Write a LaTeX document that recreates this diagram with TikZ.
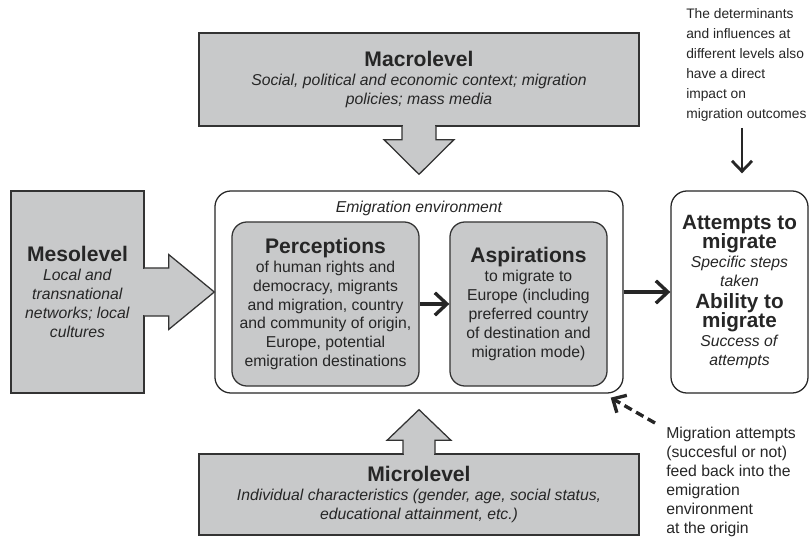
\documentclass[tikz,border=0pt]{standalone}
\usepackage{fontspec}
\setmainfont{Liberation Sans}
\usepackage{tikz}
\usetikzlibrary{arrows.meta,positioning,calc}
\definecolor{tinta}{HTML}{262626}
\definecolor{borde}{HTML}{333333}
\definecolor{grisCaja}{HTML}{C8C9CA}
\newcommand\titulo{\fontsize{15pt}{13.5pt}\selectfont\bfseries}
\newcommand\tituloB{\fontsize{14.7pt}{13.3pt}\selectfont\bfseries}
\newcommand\cuerpo{\fontsize{11.2pt}{13.5pt}\selectfont}
\lineskiplimit=-20pt

\begin{document}
\begin{tikzpicture}[x=0.025cm,y=-0.025cm,
    nivel/.style={draw=borde,fill=grisCaja,line width=0.9pt,align=center,
                  inner sep=0pt,font=\cuerpo\color{tinta}},
    tarjeta/.style={nivel,rounded corners=0.375cm},
    marco/.style={draw=tinta,fill=white,line width=0.9pt,rounded corners=0.4cm,
                  align=center,inner sep=0pt},
    bloque/.style={fill=grisCaja,draw=borde,line width=0.9pt,line join=miter},
    nota/.style={align=left,inner sep=0pt,anchor=north west},
    flecha/.style={-{Straight Barb[length=3mm,width=5.6mm]},line width=2.4pt,draw=tinta},
    flechaFina/.style={-{Straight Barb[length=2.6mm,width=5mm]},line width=2pt,draw=tinta},
    flechaDiscontinua/.style={-{Straight Barb[length=2.6mm,width=5mm]},line width=2.4pt,
                  draw=tinta,dash pattern=on 6pt off 3.5pt}]
  \useasboundingbox[fill=white] (0,0) rectangle (810,538);

  % niveles
  \node[nivel,minimum width=11cm,minimum height=2.325cm] (macro) at (419,79.5)
    {{\titulo Macrolevel}\\\textit{Social, political and economic context; migration}\\
     \textit{policies; mass media}};
  \node[nivel,minimum width=11cm,minimum height=2.025cm] (micro) at (419,494.5)
    {{\titulo Microlevel}\\\textit{Individual characteristics (gender, age, social status,}\\
     \textit{educational attainment, etc.)}};
  \node[nivel,minimum width=3.325cm,minimum height=5.05cm] (meso) at (77.5,292)
    {{\titulo Mesolevel}\\\textit{Local and}\\\textit{transnational}\\
     \textit{networks; local}\\\textit{cultures}};

  % entorno de emigracion
  \node[marco,minimum width=10.2cm,minimum height=5.05cm] (env) at (419,292) {};
  \node[font=\cuerpo\itshape\color{tinta},anchor=base,inner sep=0pt] (envlbl)
    at ($(env.north)+(0,21.7)$) {Emigration environment};
  \node[tarjeta,minimum width=4.675cm,minimum height=4.1cm] (perc) at (325.5,304)
    {{\titulo Perceptions}\\of human rights and\\democracy, migrants\\
     and migration, country\\and community of origin,\\Europe, potential\\
     emigration destinations};
  \node[tarjeta,minimum width=3.925cm,minimum height=4.1cm] (asp) at (528.5,304)
    {{\titulo Aspirations}\\to migrate to\\Europe (including\\preferred country\\
     of destination and\\migration mode)};

  % resultados
  \node[marco,minimum width=3.425cm,minimum height=5.05cm,
        font=\fontsize{11.2pt}{13.3pt}\selectfont\color{tinta}] (out)
    at (739.5,292)
    {{\tituloB Attempts to}\\{\tituloB migrate}\\\textit{Specific steps}\\\textit{taken}\\[3pt]
     {\tituloB Ability to}\\{\tituloB migrate}\\\textit{Success of}\\\textit{attempts}};

  % flechas de bloque
  \draw[bloque] ($(macro.south)+(-17,0)$) -- ++(0,13) -- ++(-18,0)
    -- ($(env.north)+(0,-16)$) -- ($(macro.south)+(35,13)$) -- ++(-18,0) -- ++(0,-13);
  \fill[grisCaja] ($(macro.south)+(-16.3,-1.5)$) rectangle ($(macro.south)+(16.3,1.2)$);
  \draw[bloque] ($(micro.north)+(-16,0)$) -- ++(0,-13) -- ++(-16,0)
    -- ($(env.south)+(0,16)$) -- ($(micro.north)+(32,-13)$) -- ++(-16,0) -- ++(0,13);
  \fill[grisCaja] ($(micro.north)+(-15.3,1.5)$) rectangle ($(micro.north)+(15.3,-1.2)$);
  \draw[bloque] ($(meso.east)+(0,-24)$) -- ++(24,0) -- ++(0,-13.5)
    -- (env.west) -- ($(meso.east)+(24,37.5)$) -- ++(0,-13.5) -- ++(-24,0);
  \fill[grisCaja] ($(meso.east)+(-1.5,-23.3)$) rectangle ($(meso.east)+(1.2,23.3)$);

  \draw[flecha] (perc) -- (asp);
  \draw[flecha] (env.east) -- (env.east -| out.west);

  % notas
  \node[nota,font=\fontsize{9.8pt}{14.2pt}\selectfont\color{tinta}] (nota) at (686,8.7)
    {The determinants\\and influences at\\different levels also\\have a direct\\
     impact on\\migration outcomes};
  \draw[flechaFina] ($(nota.south -| out.north)+(2.5,6)$) -- ($(out.north)+(2.5,-17)$);
  \node[nota,font=\cuerpo\color{tinta}] (retro) at (666,427)
    {Migration attempts\\(succesful or not)\\feed back into the\\emigration\\
     environment\\at the origin};
  \coordinate (retroFin) at ($(env.south east)+(-13,4)$);
  \draw[flechaDiscontinua] ($(retro.north west)+(-11,-4)$) -- (retroFin);
\end{tikzpicture}
\end{document}
